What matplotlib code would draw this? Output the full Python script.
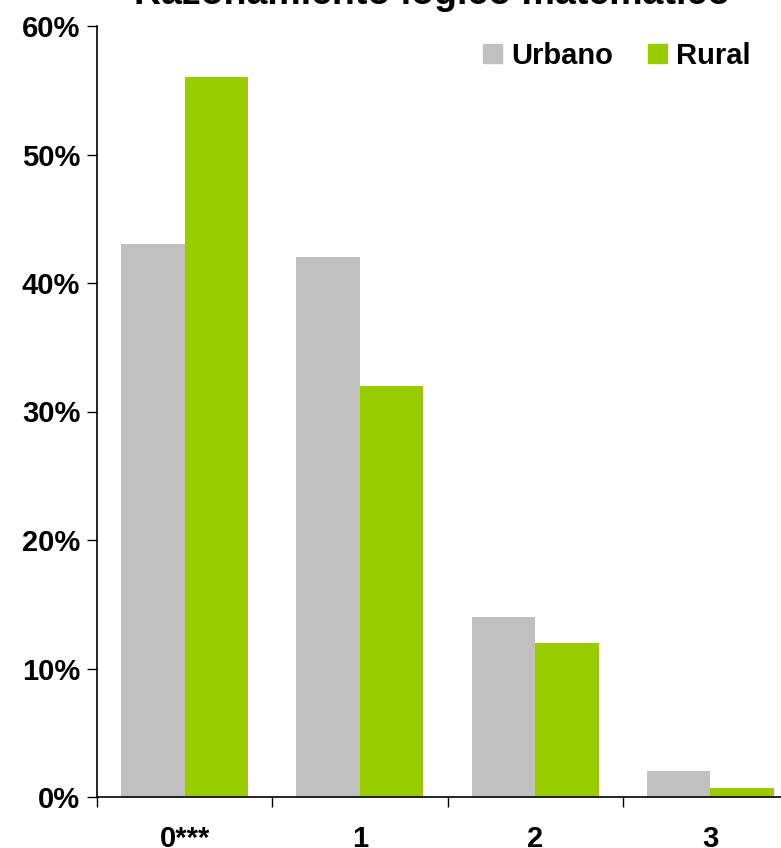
import numpy as np
import matplotlib.pyplot as plt
from matplotlib.patches import Patch
from matplotlib.ticker import FuncFormatter

categorias = ["0***", "1", "2", "3"]
urbano = [43, 42, 14, 2]
rural = [56, 32, 12, 0.7]

gris = "#C0C0C0"
verde = "#99CC00"

plt.rcParams['font.family'] = ['Liberation Sans', 'DejaVu Sans']
plt.rcParams['font.weight'] = 'bold'

fig = plt.figure(figsize=(7.81, 8.48), dpi=100)
ax = fig.add_axes([97 / 781, 51 / 848, (798 - 97) / 781, (797 - 26) / 848])

x = np.arange(len(categorias))
ancho = 0.363
ax.bar(x - ancho / 2, urbano, ancho, color=gris)
ax.bar(x + ancho / 2, rural, ancho, color=verde)

ax.set_xlim(-0.5, 3.5)
ax.set_ylim(0, 60)
ax.set_yticks(range(0, 61, 10))
ax.yaxis.set_major_formatter(FuncFormatter(lambda v, p: f"{v:.0f}%"))

# marcas entre categorías, etiquetas centradas
ax.set_xticks(np.arange(-0.5, 3.6, 1))
ax.set_xticklabels([])
ax.set_xticks(x, minor=True)
ax.set_xticklabels(categorias, minor=True)
ax.tick_params(axis='x', which='minor', length=0, pad=20, labelsize=21)
ax.tick_params(axis='x', which='major', length=7, width=1)
ax.tick_params(axis='y', length=7, width=1, pad=5, labelsize=21)

for s in ["top", "right"]:
    ax.spines[s].set_visible(False)
ax.spines["left"].set_linewidth(1.2)
ax.spines["bottom"].set_linewidth(1.2)

fig.text(0.553, 1 - 4 / 848, "Razonamiento lógico matemático", ha='center',
         va='baseline', fontsize=27, fontweight='bold')

handles = [Patch(color=gris, label="Urbano"), Patch(color=verde, label="Rural")]
fig.legend(handles=handles, loc='upper right', bbox_to_anchor=(762 / 781, 1 - 30 / 848),
           ncol=2, frameon=False, fontsize=21, handlelength=0.65, handleheight=0.65,
           handletextpad=0.3, columnspacing=1.2, borderaxespad=0)

fig.savefig("out.png", dpi=100)
